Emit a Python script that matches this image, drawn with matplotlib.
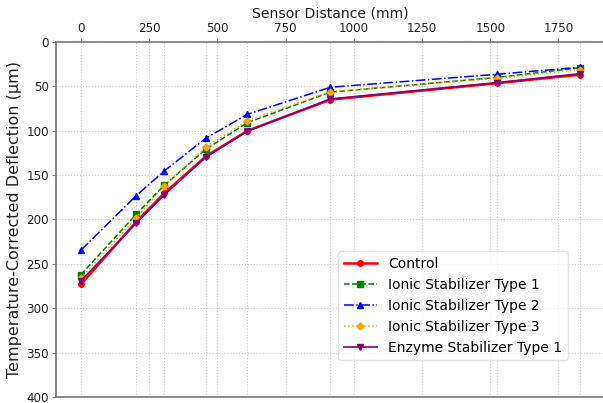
import matplotlib
matplotlib.use("Agg")
import matplotlib.pyplot as plt

sensor_mm = [0, 203, 305, 457, 610, 914, 1524, 1829]
control = [273, 202.5, 170.5, 129, 100, 65, 46.5, 36.8]
ionic1 = [262, 194, 161.5, 121, 90.9, 56.5, 40, 29]
ionic2 = [234.5, 173, 145.4, 108.5, 81.5, 51, 36.4, 28.5]
ionic3 = [266, 198, 162, 118.7, 88.6, 56, 41, 31]
enzyme1 = [269, 204, 172.4, 130, 100.5, 64.2, 45.8, 35.7]

xticks = [0, 250, 500, 750, 1000, 1250, 1500, 1750]
yticks = [0, 50, 100, 150, 200, 250, 300, 350, 400]

fig = plt.figure(figsize=(6.03, 4.03), dpi=100)
ax = fig.add_axes([0.0929, 0.0149, 0.9104, 0.8809])

ax.plot(sensor_mm, control, color='red', marker='o', ms=4, lw=1.8, ls='-', label='Control')
ax.plot(sensor_mm, ionic1, color='green', marker='s', ms=4, lw=1.1, ls='--', label='Ionic Stabilizer Type 1')
ax.plot(sensor_mm, ionic2, color='blue', marker='^', ms=4, lw=1.1, ls='-.', label='Ionic Stabilizer Type 2')
ax.plot(sensor_mm, ionic3, color='orange', marker='D', ms=3.5, lw=1.1, ls=':', label='Ionic Stabilizer Type 3')
ax.plot(sensor_mm, enzyme1, color='purple', marker='v', ms=4, lw=1.2, ls='-', label='Enzyme Stabilizer Type 1')

ax.set_xlim(-91.45, 1920.45)
ax.set_ylim(400, 0)
ax.xaxis.tick_top()
ax.xaxis.set_label_position('top')
ax.set_xticks(xticks)
ax.set_xticks(sensor_mm, minor=True)
ax.set_yticks(yticks)
ax.tick_params(axis='both', which='major', labelsize=8.6, length=3, color='#888888', labelcolor='#222222', pad=2)
ax.tick_params(axis='x', which='minor', length=0)
ax.grid(True, which='both', axis='x', ls=':', color='#cccccc', lw=0.8)
ax.grid(True, which='major', axis='y', ls=':', color='#cccccc', lw=0.8)
for s in ax.spines.values():
    s.set_color('#777777')
    s.set_linewidth(1.2)

ax.set_xlabel('Sensor Distance (mm)', fontsize=10.1, labelpad=3, color='#222222')
ax.set_ylabel('Temperature-Corrected Deflection (µm)', fontsize=11.5, color='#222222', labelpad=3)

leg = ax.legend(loc='lower left', bbox_to_anchor=(0.514, 0.104), borderaxespad=0, fontsize=10,
                frameon=True, fancybox=True, framealpha=0.8, edgecolor='#dddddd',
                handlelength=2.4, borderpad=0.4, labelspacing=0.5)

fig.savefig('out.png', dpi=100)
